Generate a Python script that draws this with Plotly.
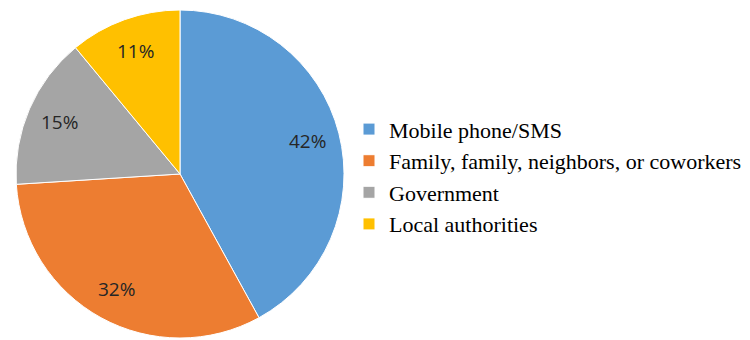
import math
import plotly.graph_objects as go

labels = ["Mobile phone/SMS", "Family, family, neighbors, or coworkers", "Government", "Local authorities"]
values = [42, 32, 15, 11]
colors = ["#5B9BD5", "#ED7D31", "#A5A5A5", "#FFC000"]

W, H = 750, 340
cx, cy, R = 180, 166, 164  # pie centre (px from left / bottom) and radius

fig = go.Figure(go.Pie(
    labels=labels, values=values, sort=False, direction="clockwise", rotation=0,
    marker=dict(colors=colors, line=dict(color="white", width=1)),
    textinfo="none",
    domain=dict(x=[(cx - R) / W, (cx + R) / W], y=[(cy - R) / H, (cy + R) / H]),
    hoverinfo="label+value",
))

total = sum(values)
cum = 0
for v in values:
    mid = (cum + v / 2) / total * 2 * math.pi
    cum += v
    fig.add_annotation(
        x=(cx + 0.8 * R * math.sin(mid)) / W, y=(cy + 0.8 * R * math.cos(mid)) / H,
        xref="paper", yref="paper", xanchor="center", yanchor="middle",
        text=f"{v}%", showarrow=False,
        font=dict(family="Open Sans, sans-serif", size=19, color="#262626"),
    )

fig.update_layout(
    width=W, height=H, margin=dict(l=0, r=0, t=0, b=0, autoexpand=False),
    paper_bgcolor="white", plot_bgcolor="white",
    legend=dict(x=349 / W, y=0.48, xanchor="left", yanchor="middle",
                font=dict(family="Liberation Serif, Times New Roman, serif", size=22, color="#000000"),
                itemwidth=30, bgcolor="rgba(0,0,0,0)"),
)
fig.write_html("out.html")
